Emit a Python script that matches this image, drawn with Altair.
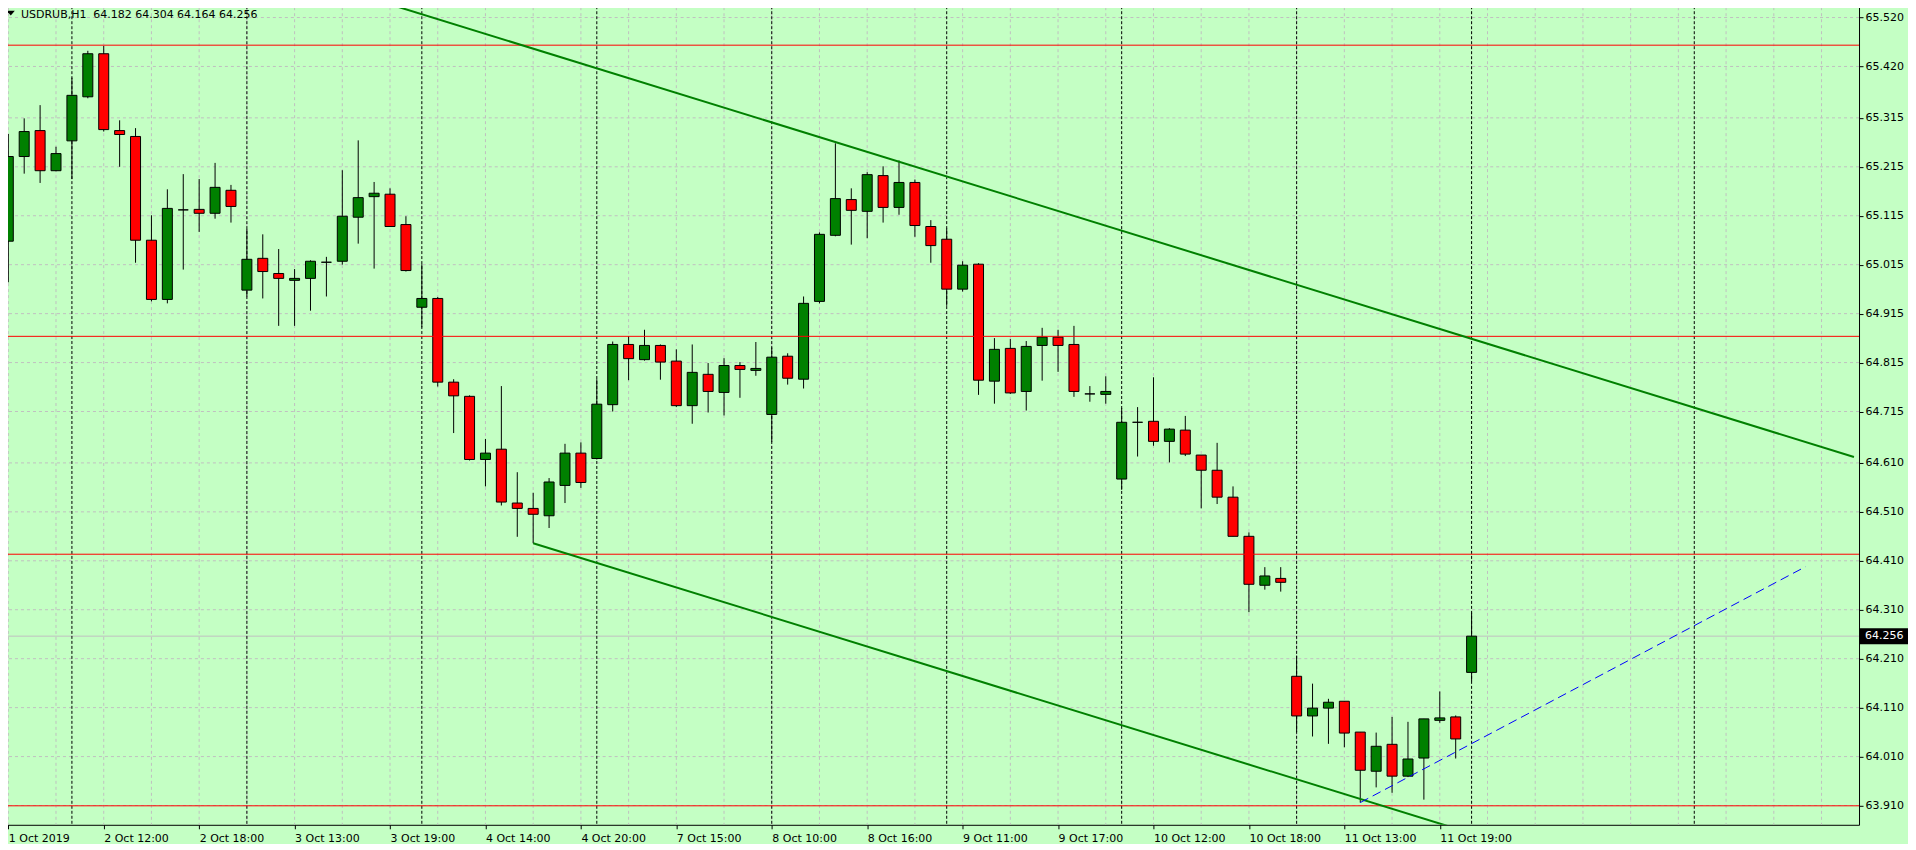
import json
import altair as alt
import pandas as pd

# ---------------- data ----------------
BARS = list(range(93))
OPEN = [65.063, 65.236, 65.289, 65.207, 65.268, 65.358, 65.446, 65.289, 65.277, 65.065,
        64.944, 65.127, 65.128, 65.120, 65.167, 64.963, 65.028, 64.997, 64.983, 64.987,
        65.020, 65.022, 65.112, 65.154, 65.159, 65.097, 64.928, 64.946, 64.775, 64.746,
        64.617, 64.638, 64.528, 64.517, 64.502, 64.564, 64.630, 64.619, 64.729, 64.852,
        64.821, 64.850, 64.818, 64.727, 64.791, 64.754, 64.809, 64.799, 64.709, 64.828,
        64.781, 64.940, 65.075, 65.148, 65.124, 65.197, 65.132, 65.183, 65.093, 65.067,
        64.965, 65.016, 64.777, 64.844, 64.756, 64.850, 64.867, 64.852, 64.751, 64.750,
        64.577, 64.693, 64.695, 64.654, 64.677, 64.626, 64.595, 64.540, 64.460, 64.360,
        64.374, 64.174, 64.093, 64.109, 64.123, 64.060, 63.980, 64.035, 63.970, 64.007,
        64.084, 64.091, 64.182]
HIGH = [65.282, 65.314, 65.341, 65.256, 65.397, 65.452, 65.462, 65.310, 65.294, 65.116,
        65.169, 65.200, 65.190, 65.223, 65.178, 65.088, 65.077, 65.047, 65.006, 65.024,
        65.031, 65.208, 65.269, 65.184, 65.171, 65.114, 65.016, 64.949, 64.781, 64.748,
        64.659, 64.767, 64.591, 64.549, 64.579, 64.649, 64.652, 64.781, 64.858, 64.869,
        64.882, 64.852, 64.842, 64.852, 64.814, 64.824, 64.816, 64.857, 64.846, 64.834,
        64.950, 65.081, 65.263, 65.171, 65.204, 65.216, 65.228, 65.189, 65.106, 65.089,
        65.022, 65.018, 64.865, 64.863, 64.859, 64.886, 64.882, 64.890, 64.767, 64.787,
        64.722, 64.724, 64.785, 64.681, 64.706, 64.626, 64.651, 64.562, 64.468, 64.397,
        64.397, 64.216, 64.159, 64.128, 64.123, 64.060, 64.059, 64.091, 64.081, 64.087,
        64.143, 64.094, 64.304]
LOW = [64.979, 65.201, 65.182, 65.206, 65.190, 65.355, 65.287, 65.215, 65.019, 64.940,
       64.936, 65.005, 65.082, 65.109, 65.101, 64.950, 64.946, 64.890, 64.890, 64.921,
       64.950, 65.015, 65.058, 65.007, 65.093, 65.001, 64.887, 64.766, 64.671, 64.615,
       64.562, 64.523, 64.459, 64.446, 64.477, 64.528, 64.559, 64.617, 64.715, 64.779,
       64.819, 64.780, 64.724, 64.690, 64.713, 64.707, 64.743, 64.788, 64.653, 64.770,
       64.762, 64.936, 65.073, 65.056, 65.069, 65.101, 65.117, 65.072, 65.019, 64.931,
       64.960, 64.749, 64.731, 64.751, 64.717, 64.778, 64.796, 64.745, 64.735, 64.731,
       64.555, 64.623, 64.645, 64.611, 64.624, 64.517, 64.526, 64.460, 64.305, 64.351,
       64.347, 64.060, 64.051, 64.036, 64.029, 63.916, 63.947, 63.936, 63.968, 63.922,
       64.079, 64.006, 64.164]
CLOSE = [65.236, 65.287, 65.207, 65.242, 65.361, 65.446, 65.291, 65.281, 65.065, 64.944,
         65.130, 65.127, 65.120, 65.173, 65.134, 65.026, 65.001, 64.987, 64.987, 65.022,
         65.020, 65.114, 65.152, 65.161, 65.093, 65.003, 64.946, 64.775, 64.747, 64.617,
         64.630, 64.530, 64.517, 64.505, 64.571, 64.630, 64.570, 64.730, 64.852, 64.823,
         64.850, 64.816, 64.727, 64.795, 64.756, 64.809, 64.801, 64.803, 64.826, 64.783,
         64.936, 65.077, 65.150, 65.126, 65.199, 65.132, 65.183, 65.095, 65.054, 64.965,
         65.014, 64.779, 64.842, 64.753, 64.848, 64.867, 64.850, 64.756, 64.751, 64.756,
         64.693, 64.693, 64.654, 64.679, 64.628, 64.595, 64.540, 64.460, 64.362, 64.379,
         64.366, 64.093, 64.109, 64.121, 64.058, 63.982, 64.031, 63.970, 64.005, 64.087,
         64.089, 64.046, 64.256]

Y_TICKS = [65.520, 65.420, 65.315, 65.215, 65.115, 65.015, 64.915, 64.815, 64.715,
           64.610, 64.510, 64.410, 64.310, 64.210, 64.110, 64.010, 63.910]
X_LABEL_BARS = [0, 6, 12, 18, 24, 30, 36, 42, 48, 54, 60, 66, 72, 78, 84, 90]
X_LABELS = ["1 Oct 2019", "2 Oct 12:00", "2 Oct 18:00", "3 Oct 13:00", "3 Oct 19:00",
            "4 Oct 14:00", "4 Oct 20:00", "7 Oct 15:00", "8 Oct 10:00", "8 Oct 16:00",
            "9 Oct 11:00", "9 Oct 17:00", "10 Oct 12:00", "10 Oct 18:00",
            "11 Oct 13:00", "11 Oct 19:00"]
GRID_BARS = list(range(0, 115, 3))
SEPARATOR_BARS = [4, 15, 26, 37, 48, 59, 70, 81, 92, 106]
RED_LEVELS = [65.4635, 64.8686, 64.4234, 63.9094]
UPPER_CH_BARS = [20, 116.04]
UPPER_CH_PRICES = [65.587, 64.622]
LOWER_CH_BARS = [33, 92]
LOWER_CH_PRICES = [64.446, 63.853]
BLUE_BARS = [85, 113]
BLUE_PRICES = [63.916, 64.398]
LAST_PRICE = [64.256]
HEADER_SYMBOL = "USDRUB,H1"
HEADER_OHLC = "64.182 64.304 64.164 64.256"

# ---------------- styling ----------------
BG = "#C4FFC4"
GRID = "#C0C0C0"
UP = "#008000"
DOWN = "#FF0000"
FONT = "DejaVu Sans"
W, H = 1858, 824
X_DOMAIN = [-0.08125, 116.04375]
Y_DOMAIN = [63.8706, 65.5533]

XS = alt.Scale(domain=X_DOMAIN, nice=False, zero=False)
YS = alt.Scale(domain=Y_DOMAIN, nice=False, zero=False)
XAXIS = alt.Axis(values=X_LABEL_BARS, labelExpr=f"{json.dumps(X_LABELS)}[round(datum.value/6)]",
                 title=None, grid=False, domain=False, tickSize=4, tickColor="black",
                 labelAlign="left", labelBaseline="alphabetic", labelPadding=12.5,
                 labelFlush=False, labelOverlap=False, labelFont=FONT, labelFontSize=11,
                 labelColor="black")
YAXIS = alt.Axis(values=Y_TICKS, format=".3f", orient="right", title=None, grid=False,
                 domain=False, tickSize=4, tickColor="black", labelPadding=2,
                 labelOverlap=False, labelFont=FONT, labelFontSize=11, labelColor="black")


def xenc(f):
    return alt.X(f, type="quantitative", scale=XS, axis=XAXIS)


def yenc(f):
    return alt.Y(f, type="quantitative", scale=YS, axis=YAXIS)


candles = pd.DataFrame({"bar": BARS, "open": OPEN, "high": HIGH, "low": LOW, "close": CLOSE})

vgrid = alt.Chart(pd.DataFrame({"bar": GRID_BARS})).mark_rule(
    color=GRID, strokeDash=[3, 3], strokeWidth=1, clip=True).encode(x=xenc("bar"))
hgrid = alt.Chart(pd.DataFrame({"price": Y_TICKS})).mark_rule(
    color=GRID, strokeDash=[3, 3], strokeWidth=1, clip=True).encode(y=yenc("price"))
lastline = alt.Chart(pd.DataFrame({"price": LAST_PRICE})).mark_rule(
    color="#C0C0C0", strokeWidth=1, clip=True).encode(y=yenc("price"))
seps = alt.Chart(pd.DataFrame({"bar": SEPARATOR_BARS})).mark_rule(
    color="black", strokeDash=[3, 2], strokeWidth=1, clip=True).encode(x=xenc("bar"))

wicks = alt.Chart(candles).mark_rule(color="black", strokeWidth=1, clip=True).encode(
    x=xenc("bar"), y=yenc("low"), y2="high")
bodies = alt.Chart(candles).mark_bar(size=10, stroke="black", strokeWidth=1, clip=True).encode(
    x=xenc("bar"), y=yenc("open"), y2="close",
    fill=alt.condition("datum.close >= datum.open", alt.value(UP), alt.value(DOWN)))

reds = alt.Chart(pd.DataFrame({"price": RED_LEVELS})).mark_rule(
    color="#FF0000", strokeWidth=1, clip=True).encode(y=yenc("price"))
upper = alt.Chart(pd.DataFrame({"bar": UPPER_CH_BARS, "price": UPPER_CH_PRICES})).mark_line(
    color=UP, strokeWidth=2, clip=True).encode(x=xenc("bar"), y=yenc("price"))
lower = alt.Chart(pd.DataFrame({"bar": LOWER_CH_BARS, "price": LOWER_CH_PRICES})).mark_line(
    color=UP, strokeWidth=2, clip=True).encode(x=xenc("bar"), y=yenc("price"))
blue = alt.Chart(pd.DataFrame({"bar": BLUE_BARS, "price": BLUE_PRICES})).mark_line(
    color="#0000FF", strokeWidth=1, strokeDash=[9, 5], clip=True).encode(
    x=xenc("bar"), y=yenc("price"))

tri = alt.Chart(pd.DataFrame({"k": [0]})).mark_point(
    shape="M-1,-0.6L1,-0.6L0,0.6Z", size=64, filled=True, color="black", opacity=1).encode(
    x=alt.value(8.8), y=alt.value(12))
hdr1 = alt.Chart(pd.DataFrame({"t": [HEADER_SYMBOL]})).mark_text(
    align="left", baseline="alphabetic", font=FONT, fontSize=11, color="black").encode(
    text="t:N", x=alt.value(19), y=alt.value(16.5))
hdr2 = alt.Chart(pd.DataFrame({"t": [HEADER_OHLC]})).mark_text(
    align="left", baseline="alphabetic", font=FONT, fontSize=11, color="black").encode(
    text="t:N", x=alt.value(91.3), y=alt.value(16.5))

pdf = pd.DataFrame({"price": LAST_PRICE, "t": ["%.3f" % LAST_PRICE[0]]})
pbox = alt.Chart(pdf).mark_rect(color="black", yOffset=-8, y2Offset=8).encode(
    x=alt.value(W), x2=alt.value(W + 49), y=yenc("price"), y2="price")
ptext = alt.Chart(pdf).mark_text(align="left", baseline="middle", font=FONT, fontSize=11,
                                 color="white").encode(
    x=alt.value(W + 6), y=yenc("price"), text="t:N")

chart = alt.layer(
    vgrid, hgrid, lastline, seps, wicks, bodies, reds, upper, lower, blue,
    tri, hdr1, hdr2, pbox, ptext
).properties(
    width=W, height=H, background=BG,
    padding={"left": -6, "top": -7, "right": 0, "bottom": 0}
).configure_view(stroke="black", strokeWidth=1, fill=BG)

chart.save("out.html", embed_options={"renderer": "svg", "actions": False})
